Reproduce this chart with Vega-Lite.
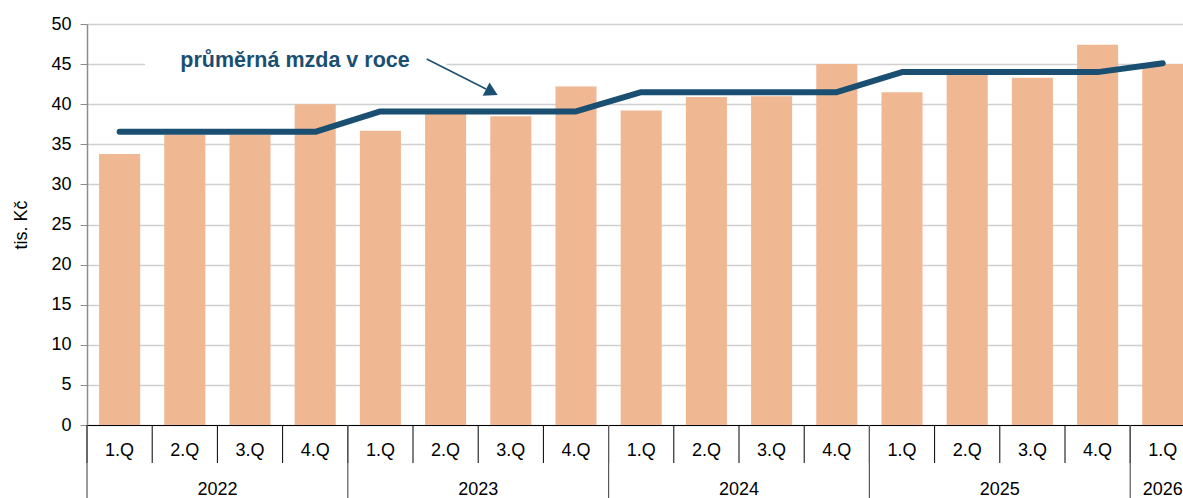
{
  "$schema": "https://vega.github.io/schema/vega-lite/v6.json",
  "width": 1096,
  "height": 401,
  "autosize": "none",
  "padding": {"left": 87, "top": 24, "right": 0, "bottom": 73},
  "background": "white",
  "config": {"font": "Liberation Sans", "view": {"stroke": null}},
  "data": {
    "values": [
      {"p": "2022-1", "year": "2022", "q": 1, "wage": 33.8, "avg": 36.55},
      {"p": "2022-2", "year": "2022", "q": 2, "wage": 36.2, "avg": 36.55},
      {"p": "2022-3", "year": "2022", "q": 3, "wage": 36.2, "avg": 36.55},
      {"p": "2022-4", "year": "2022", "q": 4, "wage": 40.0, "avg": 36.55},
      {"p": "2023-1", "year": "2023", "q": 1, "wage": 36.7, "avg": 39.1},
      {"p": "2023-2", "year": "2023", "q": 2, "wage": 38.8, "avg": 39.1},
      {"p": "2023-3", "year": "2023", "q": 3, "wage": 38.5, "avg": 39.1},
      {"p": "2023-4", "year": "2023", "q": 4, "wage": 42.2, "avg": 39.1},
      {"p": "2024-1", "year": "2024", "q": 1, "wage": 39.2, "avg": 41.5},
      {"p": "2024-2", "year": "2024", "q": 2, "wage": 40.9, "avg": 41.5},
      {"p": "2024-3", "year": "2024", "q": 3, "wage": 41.0, "avg": 41.5},
      {"p": "2024-4", "year": "2024", "q": 4, "wage": 45.0, "avg": 41.5},
      {"p": "2025-1", "year": "2025", "q": 1, "wage": 41.5, "avg": 44.0},
      {"p": "2025-2", "year": "2025", "q": 2, "wage": 43.8, "avg": 44.0},
      {"p": "2025-3", "year": "2025", "q": 3, "wage": 43.3, "avg": 44.0},
      {"p": "2025-4", "year": "2025", "q": 4, "wage": 47.4, "avg": 44.0},
      {"p": "2026-1", "year": "2026", "q": 1, "wage": 45.0, "avg": 45.1}
    ]
  },
  "layer": [
    {
      "layer": [
        {
          "mark": {"type": "bar", "color": "#f0b892"},
          "encoding": {
            "x": {
              "field": "p", "type": "ordinal", "title": null,
              "scale": {"range": [0, 1108.4], "paddingInner": 0.37, "paddingOuter": 0.185},
              "axis": {
                "title": null, "labelExpr": "split(datum.value, '-')[1] + '.Q'",
                "ticks": false, "tickSize": 0, "labelPadding": 16, "labelAngle": 0,
                "labelFontSize": 18, "labelColor": "#000", "labelFont": "Liberation Sans",
                "domainColor": "#000", "domainWidth": 1.2, "grid": false
              }
            },
            "y": {
              "field": "wage", "type": "quantitative", "title": "tis. Kč",
              "scale": {"domain": [0, 50], "nice": false},
              "axis": {
                "title": "tis. Kč", "values": [0, 5, 10, 15, 20, 25, 30, 35, 40, 45, 50],
                "grid": true, "gridColor": "#d0d0d0", "gridWidth": 1.3,
                "domainColor": "#8c8c8c", "domainWidth": 1.5,
                "tickColor": "#8c8c8c", "tickSize": 7, "labelPadding": 9,
                "labelFontSize": 18, "labelColor": "#000", "labelFont": "Liberation Sans",
                "titleFontSize": 18, "titleFontWeight": "normal", "titleColor": "#000",
                "titleFont": "Liberation Sans", "titlePadding": 20
              }
            }
          }
        },
        {
          "mark": {"type": "line", "color": "#1b4f72", "strokeWidth": 6, "strokeCap": "round", "strokeJoin": "round"},
          "encoding": {
            "x": {"field": "p", "type": "ordinal", "title": null},
            "y": {"field": "avg", "type": "quantitative", "title": "tis. Kč"}
          }
        },
        {
          "mark": {"type": "rule", "color": "#000", "strokeWidth": 1, "xOffset": -12.06},
          "encoding": {
            "x": {"field": "p", "type": "ordinal", "bandPosition": 0, "title": null},
            "y": {"datum": 0, "type": "quantitative", "title": "tis. Kč"},
            "y2": {"datum": -4.74}
          }
        },
        {
          "transform": [{"filter": "datum.q == 1"}],
          "mark": {"type": "rule", "color": "#595959", "strokeWidth": 1.2, "xOffset": -12.06},
          "encoding": {
            "x": {"field": "p", "type": "ordinal", "bandPosition": 0, "title": null},
            "y": {"datum": 0, "type": "quantitative", "title": "tis. Kč"},
            "y2": {"datum": -10}
          }
        },
        {
          "transform": [{"filter": "datum.q == 2"}],
          "mark": {"type": "text", "fontSize": 18, "color": "#000", "align": "center", "baseline": "alphabetic", "xOffset": 12.06},
          "encoding": {
            "x": {"field": "p", "type": "ordinal", "bandPosition": 1, "title": null},
            "y": {"datum": -8.68, "type": "quantitative", "title": "tis. Kč"},
            "text": {"field": "year"}
          }
        },
        {
          "transform": [{"filter": "datum.year == '2026'"}],
          "mark": {"type": "text", "fontSize": 18, "color": "#000", "align": "center", "baseline": "alphabetic"},
          "encoding": {
            "x": {"field": "p", "type": "ordinal", "title": null},
            "y": {"datum": -8.68, "type": "quantitative", "title": "tis. Kč"},
            "text": {"field": "year"}
          }
        }
      ]
    },
    {
      "data": {"values": [{}]},
      "layer": [
        {
          "mark": {"type": "rect", "color": "white"},
          "encoding": {
            "x": {"datum": 0.89, "type": "quantitative", "scale": {"domain": [0, 17], "range": [0, 1108.4], "nice": false, "zero": false}, "axis": null},
            "x2": {"datum": 5.51},
            "y": {"datum": 43.8, "type": "quantitative", "title": "tis. Kč"},
            "y2": {"datum": 46.2}
          }
        },
        {
          "mark": {"type": "text", "text": "průměrná mzda v roce", "fontSize": 21.5, "fontWeight": "bold", "color": "#1b4f72", "align": "center", "baseline": "alphabetic"},
          "encoding": {
            "x": {"datum": 3.19, "type": "quantitative", "axis": null},
            "y": {"datum": 44.68, "type": "quantitative", "title": "tis. Kč"}
          }
        },
        {
          "mark": {"type": "rule", "color": "#1b4f72", "strokeWidth": 1.5},
          "encoding": {
            "x": {"datum": 5.21, "type": "quantitative", "axis": null},
            "x2": {"datum": 6.12},
            "y": {"datum": 45.64, "type": "quantitative", "title": "tis. Kč"},
            "y2": {"datum": 41.9}
          }
        },
        {
          "mark": {"type": "point", "shape": "triangle-up", "filled": true, "size": 225, "angle": 117, "color": "#1b4f72", "opacity": 1},
          "encoding": {
            "x": {"datum": 6.21, "type": "quantitative", "axis": null},
            "y": {"datum": 41.52, "type": "quantitative", "title": "tis. Kč"}
          }
        }
      ]
    }
  ],
  "resolve": {"scale": {"x": "independent"}}
}
